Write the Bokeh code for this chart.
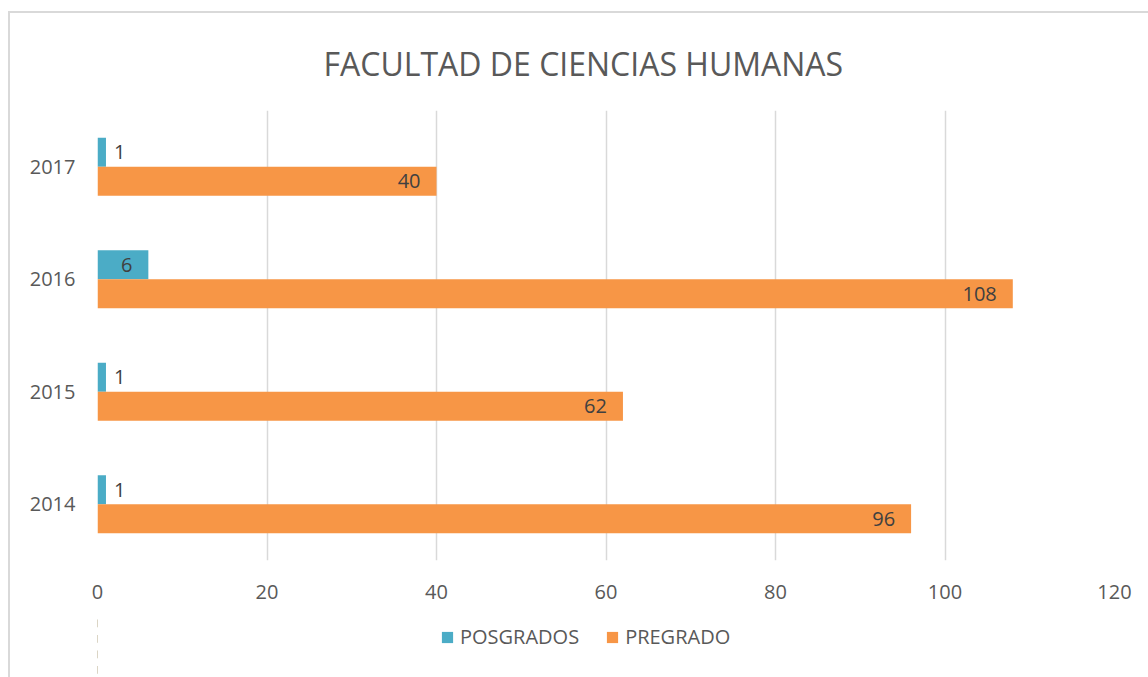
from bokeh.plotting import figure
from bokeh.layouts import column
from bokeh.models import ColumnDataSource, Legend, LegendItem, FixedTicker
from bokeh.transform import dodge
from bokeh.core.properties import value
from bokeh.embed import file_html
from bokeh.resources import INLINE

years = ["2014", "2015", "2016", "2017"]
posgrados = [1, 1, 6, 1]
pregrado = [96, 62, 108, 40]
x_ticks = [0, 20, 40, 60, 80, 100, 120]
series_names = ["POSGRADOS", "PREGRADO"]

TEAL = "#4BACC6"
ORANGE = "#F79646"
FONT = "Open Sans"

src = ColumnDataSource(dict(
    year=years, pos=posgrados, pre=pregrado,
    pos_txt=[str(v) for v in posgrados], pre_txt=[str(v) for v in pregrado],
))
out_src = ColumnDataSource(dict(
    year=[y for y, v in zip(years, posgrados) if v < 4],
    pos=[v for v in posgrados if v < 4],
    txt=[str(v) for v in posgrados if v < 4]))
in_src = ColumnDataSource(dict(
    year=[y for y, v in zip(years, posgrados) if v >= 4],
    pos=[v for v in posgrados if v >= 4],
    txt=[str(v) for v in posgrados if v >= 4]))

p = figure(frame_width=1017, frame_height=450, y_range=years, x_range=(0, 120),
           output_backend="svg", toolbar_location=None,
           min_border_left=87, min_border_right=34, min_border_top=97, min_border_bottom=55,
           title="FACULTAD DE CIENCIAS HUMANAS")
p.y_range.range_padding = 0
p.outline_line_color = None
p.background_fill_color = "white"
p.border_fill_color = "white"

p.title.align = "left"
p.title.offset = 226
p.title.text_font = FONT
p.title.text_font_size = "32px"
p.title.text_font_style = "normal"
p.title.text_color = "#595959"
p.title.standoff = 52

bh = 0.257
r1 = p.hbar(y=dodge("year", 0.1285, range=p.y_range), right="pos", left=0, height=bh,
            source=src, fill_color=TEAL, line_color=None)
r2 = p.hbar(y=dodge("year", -0.1285, range=p.y_range), right="pre", left=0, height=bh,
            source=src, fill_color=ORANGE, line_color=None)

lbl = dict(text_font=value(FONT), text_font_size="20px", text_color="#404040",
           text_baseline="middle")
p.text(x="pos", y=dodge("year", 0.1285, range=p.y_range), text="txt", source=out_src,
       x_offset=8, text_align="left", **lbl)
p.text(x="pos", y=dodge("year", 0.1285, range=p.y_range), text="txt", source=in_src,
       x_offset=-16, text_align="right", **lbl)
p.text(x="pre", y=dodge("year", -0.1285, range=p.y_range), text="pre_txt", source=src,
       x_offset=-16, text_align="right", **lbl)

p.xaxis.ticker = FixedTicker(ticks=x_ticks)
for ax in (p.xaxis[0], p.yaxis[0]):
    ax.axis_line_color = None
    ax.major_tick_line_color = None
    ax.minor_tick_line_color = None
    ax.major_label_text_font = FONT
    ax.major_label_text_font_size = "20px"
    ax.major_label_text_color = "#595959"
p.xaxis.major_label_standoff = 18
p.yaxis.major_label_standoff = 16

p.xgrid.grid_line_color = "#d9d9d9"
p.xgrid.grid_line_width = 1.5
p.ygrid.grid_line_color = None

# legend strip below the chart (its bars lie outside the strip's visible range)
p2 = figure(width=1138, height=62, x_range=(1000, 1001), y_range=years,
            x_axis_location=None, y_axis_location=None,
            output_backend="svg", toolbar_location=None, min_border=0)
p2.outline_line_color = None
p2.grid.visible = False
p2.background_fill_color = "white"
p2.border_fill_color = "white"
l1 = p2.hbar(y="year", right="pos", left=0, height=0.5, source=src,
             fill_color=TEAL, line_color=None)
l2 = p2.hbar(y="year", right="pre", left=0, height=0.5, source=src,
             fill_color=ORANGE, line_color=None)

legend = Legend(items=[LegendItem(label=series_names[0], renderers=[l1]),
                       LegendItem(label=series_names[1], renderers=[l2])],
                orientation="horizontal", location=(343, 27),
                label_text_font=FONT, label_text_font_size="20px", label_text_color="#595959",
                glyph_width=14, glyph_height=14, label_standoff=6, spacing=26,
                padding=0, margin=0, border_line_color=None, background_fill_alpha=0)
p2.add_layout(legend, "center")

layout = column(p, p2, spacing=0,
                styles={"margin-left": "8px", "margin-top": "11px",
                        "border-left": "2px solid #d9d9d9", "border-top": "2px solid #d9d9d9"})

open("out.html", "w").write(file_html(layout, INLINE))
